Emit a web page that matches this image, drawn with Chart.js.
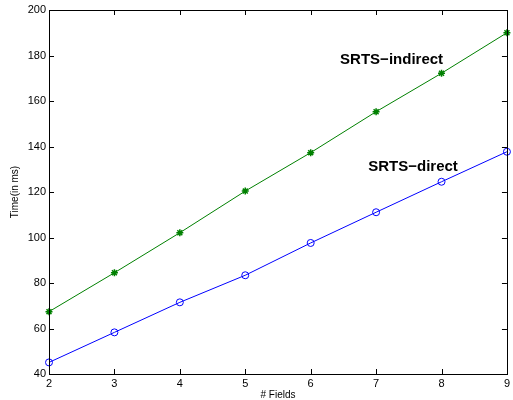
<!DOCTYPE html>
<html>
<head>
<meta charset="utf-8">
<script src="https://cdn.jsdelivr.net/npm/chart.js@4/dist/chart.umd.min.js"></script>
<style>
html,body{margin:0;padding:0;background:#fff;}
#wrap{width:513px;height:400px;position:relative;}
</style>
</head>
<body>
<div id="wrap"><canvas id="c" width="513" height="400"></canvas></div>
<script>
// Data
const fields = [2, 3, 4, 5, 6, 7, 8, 9];
const srtsDirect = [45.1, 58.3, 71.5, 83.4, 97.6, 111.1, 124.5, 137.7];
const srtsIndirect = [67.4, 84.5, 102.1, 120.4, 137.3, 155.3, 172.2, 190.0];
const xTicks = [2, 3, 4, 5, 6, 7, 8, 9];
const yTicks = [40, 60, 80, 100, 120, 140, 160, 180, 200];
const seriesNames = ['SRTS\u2212direct', 'SRTS\u2212indirect'];
// text labels placed in data coordinates (left edge, baseline)
const labelText = ['SRTS\u2212indirect', 'SRTS\u2212direct'];
const labelX = [6.45, 6.88];
const labelY = [176.3, 129.2];

const FONT = '"Liberation Sans", Arial, Helvetica, sans-serif';

const boxPlugin = {
  id: 'boxTicks',
  afterDraw(chart) {
    const ctx = chart.ctx;
    const a = chart.chartArea;
    const xs = chart.scales.x, ys = chart.scales.y;
    const L = 5;
    ctx.save();
    ctx.strokeStyle = '#000';
    ctx.lineWidth = 1;
    ctx.beginPath();
    xTicks.forEach(v => {
      const p = Math.round(xs.getPixelForValue(v)) + 0.5;
      ctx.moveTo(p, a.bottom); ctx.lineTo(p, a.bottom - L);
      ctx.moveTo(p, a.top); ctx.lineTo(p, a.top + L);
    });
    yTicks.forEach(v => {
      const p = Math.round(ys.getPixelForValue(v)) + 0.5;
      ctx.moveTo(a.left, p); ctx.lineTo(a.left + L, p);
      ctx.moveTo(a.right, p); ctx.lineTo(a.right - L, p);
    });
    ctx.stroke();
    ctx.strokeRect(Math.round(a.left) + 0.5, Math.round(a.top) + 0.5,
                   Math.round(a.right - a.left), Math.round(a.bottom - a.top));
    ctx.fillStyle = '#000';
    ctx.font = 'bold 15px ' + FONT;
    ctx.textBaseline = 'alphabetic';
    ctx.textAlign = 'left';
    labelText.forEach((t, i) => {
      ctx.fillText(t, xs.getPixelForValue(labelX[i]), ys.getPixelForValue(labelY[i]));
    });
    ctx.restore();
  }
};

new Chart(document.getElementById('c'), {
  type: 'line',
  data: {
    datasets: [
      {
        label: seriesNames[0],
        data: fields.map((x, i) => ({x: x, y: srtsDirect[i]})),
        borderColor: '#0000ff',
        backgroundColor: 'rgba(0,0,0,0)',
        borderWidth: 1,
        pointStyle: 'circle',
        pointRadius: 3.5,
        pointBorderWidth: 1,
        pointBorderColor: '#0000ff',
        pointBackgroundColor: 'rgba(0,0,0,0)',
        tension: 0,
        clip: false
      },
      {
        label: seriesNames[1],
        data: fields.map((x, i) => ({x: x, y: srtsIndirect[i]})),
        borderColor: '#008000',
        backgroundColor: 'rgba(0,0,0,0)',
        borderWidth: 1,
        pointStyle: 'star',
        pointRadius: 3.5,
        pointBorderWidth: 1.5,
        pointBorderColor: '#008000',
        pointBackgroundColor: '#008000',
        tension: 0,
        clip: false
      }
    ]
  },
  options: {
    responsive: false,
    animation: false,
    layout: {padding: {top: 10, right: 5, left: 0, bottom: 0}},
    plugins: {legend: {display: false}, tooltip: {enabled: false}},
    scales: {
      x: {
        type: 'linear',
        min: 2, max: 9,
        afterBuildTicks: s => { s.ticks = xTicks.map(v => ({value: v})); },
        afterFit: s => { s.height = 26; },
        grid: {display: false, drawTicks: false},
        border: {display: false},
        ticks: {color: '#000', padding: 3, font: {family: FONT, size: 11}},
        title: {display: true, text: '# Fields', color: '#000', padding: 0,
                font: {family: FONT, size: 10, lineHeight: 1}}
      },
      y: {
        type: 'linear',
        min: 40, max: 200,
        afterBuildTicks: s => { s.ticks = yTicks.map(v => ({value: v})); },
        afterFit: s => { s.width = 49; },
        grid: {display: false, drawTicks: false},
        border: {display: false},
        ticks: {color: '#000', padding: 3, font: {family: FONT, size: 11}},
        title: {display: true, text: 'Time(in ms)', color: '#000', padding: {top: 10, bottom: 0},
                font: {family: FONT, size: 10, lineHeight: 1}}
      }
    }
  },
  plugins: [boxPlugin]
});
</script>
</body>
</html>
